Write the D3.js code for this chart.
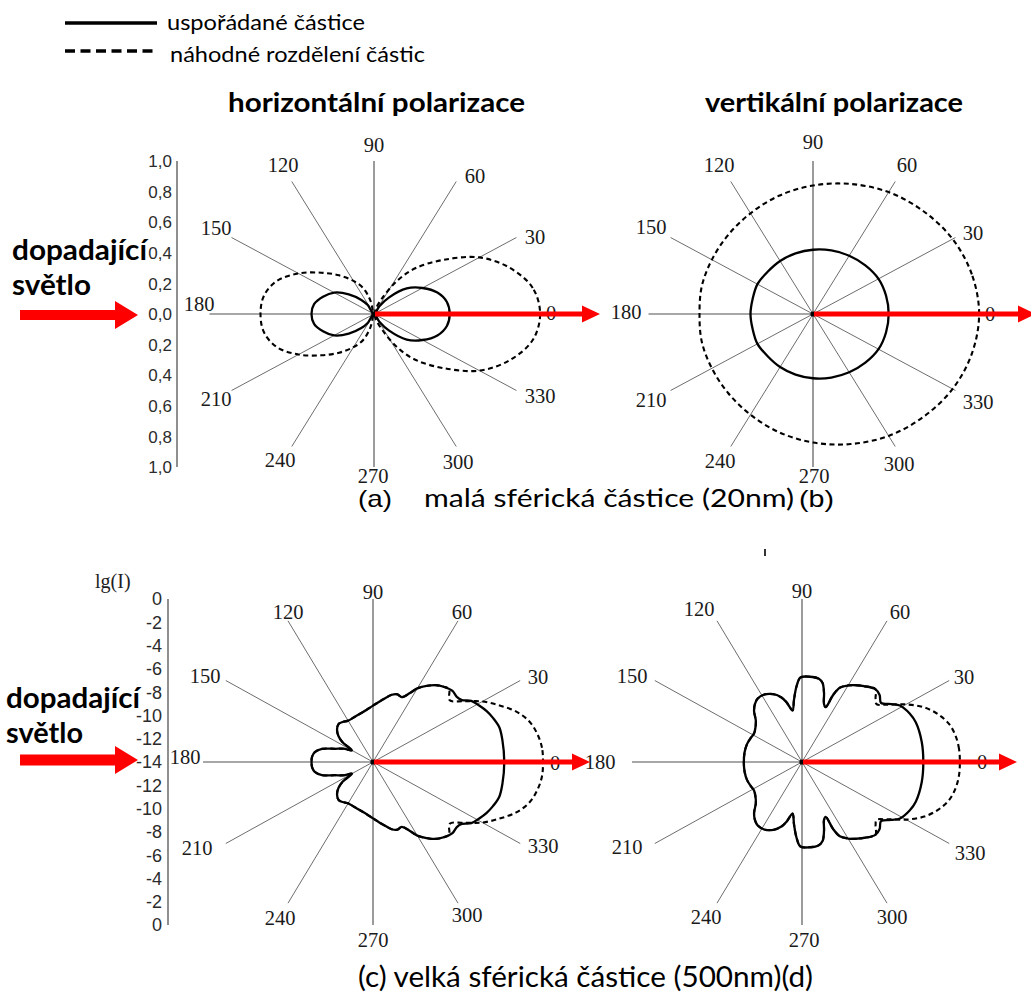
<!DOCTYPE html>
<html>
<head>
<meta charset="utf-8">
<script src="https://cdn.jsdelivr.net/npm/d3@7"></script>
<style>
  html, body { margin: 0; padding: 0; background: #fff; }
  svg { display: block; }
</style>
</head>
<body>
<svg id="chart" width="1031" height="996"></svg>
<script>
// ---------- data ----------
// spoke directions of the polar diagrams (degrees)
const spokeAngles = [0, 30, 60, 90, 120, 150, 180, 210, 240, 270, 300, 330];

// tick labels of the two radial scales, read top to bottom
const intensityTicks = [1.0, 0.8, 0.6, 0.4, 0.2, 0.0, 0.2, 0.4, 0.6, 0.8, 1.0];
const lgTicks = [0, -2, -4, -6, -8, -10, -12, -14, -12, -10, -8, -6, -4, -2, 0];

// (a) small particle, horizontal polarisation (relative intensity)
const aOrderedAngles = [0, 10, 20, 30, 40, 50, 57, 90, 123, 130, 140, 150, 160, 170, 180,
  190, 200, 210, 220, 230, 237, 270, 303, 310, 320, 330, 340, 350];
const aOrderedValues = [0.46, 0.45, 0.41, 0.34, 0.26, 0.14, 0.06, 0, 0.07, 0.12, 0.20, 0.28, 0.33, 0.37, 0.38,
  0.37, 0.33, 0.28, 0.20, 0.12, 0.07, 0, 0.06, 0.14, 0.26, 0.34, 0.41, 0.45];
const aRandomAngles = [0, 10, 20, 30, 40, 50, 57, 64, 72, 90, 104, 111, 120, 130, 140, 150, 160, 170, 180,
  190, 200, 210, 220, 230, 240, 249, 256, 270, 288, 296, 303, 310, 320, 330, 340, 350];
const aRandomValues = [1.01, 0.98, 0.88, 0.74, 0.55, 0.39, 0.26, 0.12, 0.04, 0, 0.09, 0.18, 0.25, 0.33, 0.42, 0.53, 0.63, 0.68, 0.69,
  0.68, 0.63, 0.53, 0.42, 0.33, 0.25, 0.18, 0.09, 0, 0.04, 0.12, 0.26, 0.39, 0.55, 0.74, 0.88, 0.98];

// (b) small particle, vertical polarisation (relative intensity)
const bAngles = [0, 15, 30, 45, 60, 75, 90, 105, 120, 135, 150, 165, 180,
  195, 210, 225, 240, 255, 270, 285, 300, 315, 330, 345];
const bOrderedValues = [0.46, 0.46, 0.46, 0.45, 0.44, 0.43, 0.42, 0.41, 0.40, 0.39, 0.39, 0.38, 0.38,
  0.38, 0.39, 0.39, 0.40, 0.41, 0.42, 0.43, 0.44, 0.45, 0.46, 0.46];
const bRandomValues = [1.01, 1.00, 0.98, 0.95, 0.92, 0.88, 0.84, 0.80, 0.76, 0.73, 0.71, 0.70, 0.69,
  0.70, 0.71, 0.73, 0.76, 0.80, 0.84, 0.88, 0.92, 0.95, 0.98, 1.00];

// (c) large particle, horizontal polarisation: [angle, lg(I)]
const cOrdered = [[0,-3.19],[10,-3.18],[16,-3.18],[21,-3.42],[25,-3.67],[29,-4.0],[33,-4.35],[36,-4.95],[39,-5.12],
  [43,-5.05],[48,-5.3],[52,-5.62],[56,-6.12],[60,-6.7],[63,-7.38],[67,-7.95],[71,-7.85],[75,-8.02],[81,-8.54],
  [90,-9.16],[97,-9.5],[105,-9.73],[112,-9.85],[120,-9.9],[126,-9.75],[131,-9.68],[137,-9.95],[142,-10.4],
  [146,-11.0],[150,-12.0],[155,-11.3],[160,-10.68],[165,-9.65],[170,-9.13],[175,-8.96],[180,-8.94],
  [185,-8.96],[190,-9.13],[195,-9.65],[200,-10.68],[205,-11.3],[210,-12.0],[214,-11.0],[218,-10.4],[223,-9.95],
  [229,-9.68],[234,-9.75],[240,-9.9],[248,-9.85],[255,-9.73],[263,-9.5],[270,-9.16],[279,-8.54],[285,-8.02],
  [289,-7.85],[293,-7.95],[297,-7.38],[300,-6.7],[304,-6.12],[308,-5.62],[312,-5.3],[317,-5.05],[321,-5.12],
  [324,-4.95],[327,-4.35],[331,-4.0],[335,-3.67],[339,-3.42],[344,-3.18],[350,-3.18]];
const cRandom = [[0,0],[5,-0.03],[10,-0.25],[15,-0.65],[20,-1.4],[25,-2.5],[30,-3.6],[35,-4.9],[40,-5.75],
  [45,-5.15],[48,-5.3],[52,-5.62],[56,-6.12],[60,-6.7],[63,-7.38],[67,-7.95],[71,-7.85],[75,-8.02],[81,-8.54],
  [90,-9.16],[97,-9.5],[105,-9.73],[112,-9.85],[120,-9.9],[126,-9.75],[131,-9.68],[137,-9.95],[142,-10.4],
  [146,-11.0],[150,-12.0],[155,-11.3],[160,-10.68],[165,-9.65],[170,-9.13],[175,-8.96],[180,-8.94],
  [185,-8.96],[190,-9.13],[195,-9.65],[200,-10.68],[205,-11.3],[210,-12.0],[214,-11.0],[218,-10.4],[223,-9.95],
  [229,-9.68],[234,-9.75],[240,-9.9],[248,-9.85],[255,-9.73],[263,-9.5],[270,-9.16],[279,-8.54],[285,-8.02],
  [289,-7.85],[293,-7.95],[297,-7.38],[300,-6.7],[304,-6.12],[308,-5.62],[312,-5.3],[315,-5.15],[320,-5.75],
  [325,-4.9],[330,-3.6],[335,-2.5],[340,-1.4],[345,-0.65],[350,-0.25],[355,-0.03]];

// (d) large particle, vertical polarisation: [angle, lg(I)]
const dOrdered = [[0,-4.01],[10,-3.99],[20,-4.03],[25,-4.2],[31,-4.59],[34,-5.1],[38,-5.74],[42,-5.4],[46,-5.3],
  [52,-5.73],[56,-6.05],[60,-6.41],[64,-6.9],[66,-7.7],[67.5,-8.9],[70,-8.7],[73,-7.8],[76,-7.0],[79,-6.72],
  [85,-6.65],[91,-6.74],[94,-7.5],[97,-8.6],[100,-9.5],[104,-8.7],[107,-8.2],[112,-7.72],[118,-7.43],[124,-7.45],
  [128,-7.7],[132,-8.1],[137,-8.8],[142,-9.14],[148,-9.35],[154,-9.3],[161,-9.22],[170,-9.2],[180,-9.21],
  [190,-9.2],[199,-9.22],[206,-9.3],[212,-9.35],[218,-9.14],[223,-8.8],[228,-8.1],[232,-7.7],[236,-7.45],
  [242,-7.43],[248,-7.72],[253,-8.2],[256,-8.7],[260,-9.5],[263,-8.6],[266,-7.5],[269,-6.74],[275,-6.65],
  [281,-6.72],[284,-7.0],[287,-7.8],[290,-8.7],[292.5,-8.9],[294,-7.7],[296,-6.9],[300,-6.41],[304,-6.05],
  [308,-5.73],[314,-5.3],[318,-5.4],[322,-5.74],[326,-5.1],[329,-4.59],[335,-4.2],[340,-4.03],[350,-3.99]];
const dRandom = [[0,-1.0],[5,-1.02],[10,-1.15],[15,-1.45],[20,-2.05],[25,-2.9],[30,-4.1],[35,-5.41],[39,-6.1],
  [42,-5.85],[46,-5.3],[52,-5.73],[56,-6.05],[60,-6.41],[64,-6.9],[66,-7.7],[67.5,-8.9],[70,-8.7],[73,-7.8],
  [76,-7.0],[79,-6.72],[85,-6.65],[91,-6.74],[94,-7.5],[97,-8.6],[100,-9.5],[104,-8.7],[107,-8.2],[112,-7.72],
  [118,-7.43],[124,-7.45],[128,-7.7],[132,-8.1],[137,-8.8],[142,-9.14],[148,-9.35],[154,-9.3],[161,-9.22],
  [170,-9.2],[180,-9.21],[190,-9.2],[199,-9.22],[206,-9.3],[212,-9.35],[218,-9.14],[223,-8.8],[228,-8.1],
  [232,-7.7],[236,-7.45],[242,-7.43],[248,-7.72],[253,-8.2],[256,-8.7],[260,-9.5],[263,-8.6],[266,-7.5],
  [269,-6.74],[275,-6.65],[281,-6.72],[284,-7.0],[287,-7.8],[290,-8.7],[292.5,-8.9],[294,-7.7],[296,-6.9],
  [300,-6.41],[304,-6.05],[308,-5.73],[314,-5.3],[318,-5.85],[321,-6.1],[325,-5.41],[330,-4.1],[335,-2.9],
  [340,-2.05],[345,-1.45],[350,-1.15],[355,-1.02]];

// ---------- drawing ----------
const svg = d3.select('#chart');
const DEG = Math.PI / 180;
const SERIF = '"Liberation Serif", "Times New Roman", serif';
const SANS = '"Liberation Sans", Arial, sans-serif';
const HUMANIST = 'Lato, "Open Sans", sans-serif';

svg.append('rect').attr('width', 1031).attr('height', 996).attr('fill', '#fff');

const linearRadius = d3.scaleLinear().domain([0, 1]).range([0, 153]);
const lgRadius = d3.scaleLinear().domain([-14, 0]).range([0, 163]);

// label offsets from the diagram centre, in spokeAngles order
const panels = {
  a: { cx: 374, cy: 314, kx: 1.075, scale: linearRadius, outer: 1,
       labels: [[177,-1],[161,-77],[101,-138],[0,-169],[-91,-149],[-158,-86],[-175,-10],[-158,85],[-94,146],[-1,162],[84,148],[166,82]] },
  b: { cx: 813, cy: 314, kx: 1.075, scale: linearRadius, outer: 1,
       labels: [[177,0],[160,-81],[94,-149],[0,-172],[-94,-149],[-162,-87],[-187,-2],[-162,86],[-93,147],[1,162],[86,150],[165,88]] },
  c: { cx: 373, cy: 762, kx: 1.043, scale: lgRadius, outer: 0,
       labels: [[182,1],[165,-85],[89,-150],[0,-170],[-85,-150],[-168,-86],[-188,-5],[-176,86],[-93,156],[0,178],[94,153],[170,84]] },
  d: { cx: 802, cy: 762, kx: 1.043, scale: lgRadius, outer: 0,
       labels: [[180,0],[162,-85],[98,-150],[0,-171],[-103,-153],[-170,-86],[-202,0],[-175,85],[-96,155],[2,178],[90,155],[168,91]] }
};

function polar(p, angle, value) {
  const r = p.scale(value), t = angle * DEG;
  return [p.cx + p.kx * r * Math.cos(t), p.cy - r * Math.sin(t)];
}

const closedLine = d3.line().curve(d3.curveCatmullRomClosed.alpha(0.5));

function drawPanel(p, series) {
  const g = svg.append('g');
  // spokes
  g.selectAll('line.spoke').data(spokeAngles).join('line')
    .attr('class', 'spoke')
    .attr('x1', p.cx).attr('y1', p.cy)
    .attr('x2', d => polar(p, d, p.outer)[0])
    .attr('y2', d => polar(p, d, p.outer)[1])
    .attr('stroke', d => d % 90 === 0 ? '#8a8a8a' : '#5c5c5c')
    .attr('stroke-width', d => d % 90 === 0 ? 1.7 : 0.9);
  // angle labels
  g.selectAll('text.angle').data(spokeAngles).join('text')
    .attr('class', 'angle')
    .attr('x', (d, i) => p.cx + p.labels[i][0])
    .attr('y', (d, i) => p.cy + p.labels[i][1])
    .attr('dy', '0.34em')
    .attr('text-anchor', 'middle')
    .attr('font-family', SERIF)
    .attr('font-size', 20.5)
    .attr('fill', '#1a1a1a')
    .text(d => d);
  // curves: random distribution (dashed) below ordered particles (solid)
  series.forEach(s => {
    g.append('path')
      .attr('d', closedLine(s.points.map(([ang, v]) => polar(p, ang, v))))
      .attr('fill', 'none')
      .attr('stroke', '#000')
      .attr('stroke-width', s.dashed ? 2.1 : 2.3)
      .attr('stroke-dasharray', s.dashed ? '5,3.5' : null)
      .attr('stroke-linejoin', 'round');
  });
  g.append('circle').attr('cx', p.cx).attr('cy', p.cy).attr('r', 2.6).attr('fill', '#000');
  return g;
}

drawPanel(panels.a, [
  { points: d3.zip(aRandomAngles, aRandomValues), dashed: true },
  { points: d3.zip(aOrderedAngles, aOrderedValues), dashed: false }
]);
drawPanel(panels.b, [
  { points: d3.zip(bAngles, bRandomValues), dashed: true },
  { points: d3.zip(bAngles, bOrderedValues), dashed: false }
]);
drawPanel(panels.c, [
  { points: cRandom, dashed: true },
  { points: cOrdered, dashed: false }
]);
drawPanel(panels.d, [
  { points: dRandom, dashed: true },
  { points: dOrdered, dashed: false }
]);

// ---------- radial value scales on the left ----------
function drawScale(p, axisX, ticks, labelX, size, fmt) {
  const g = svg.append('g');
  const mid = (ticks.length - 1) / 2;
  const top = p.cy - p.scale(p.outer), bottom = p.cy + p.scale(p.outer);
  g.append('line')
    .attr('x1', axisX).attr('x2', axisX).attr('y1', top).attr('y2', bottom)
    .attr('stroke', '#8f8f8f').attr('stroke-width', 2);
  g.selectAll('text').data(ticks).join('text')
    .attr('x', labelX)
    .attr('y', (d, i) => p.cy - Math.sign(mid - i) * p.scale(d))
    .attr('dy', '0.36em')
    .attr('text-anchor', 'end')
    .attr('font-family', SANS)
    .attr('font-size', size)
    .attr('fill', '#2b2b2b')
    .text(fmt);
}
drawScale(panels.a, 177, intensityTicks, 172, 17, d => d3.format('.1f')(d).replace('.', ','));
drawScale(panels.c, 168, lgTicks, 162, 18, d => String(d));

svg.append('text')
  .attr('x', 95).attr('y', 588)
  .attr('font-family', SERIF).attr('font-size', 20).attr('fill', '#1e1e1e')
  .text('lg(I)');

// ---------- red arrows ----------
function arrow(x0, tip, y, shaft, headLen, headHalf) {
  const xh = tip - headLen;
  svg.append('path')
    .attr('d', `M${x0},${y - shaft / 2}L${xh},${y - shaft / 2}L${xh},${y - headHalf}L${tip},${y}` +
      `L${xh},${y + headHalf}L${xh},${y + shaft / 2}L${x0},${y + shaft / 2}Z`)
    .attr('fill', '#ff0000');
}
// direction of propagation inside each diagram
arrow(panels.a.cx + 1, 600, panels.a.cy, 5, 18, 8.5);
arrow(panels.b.cx + 1, 1036, panels.b.cy, 5, 18, 8.5);
arrow(panels.c.cx + 1, 590, panels.c.cy, 5, 18, 8.5);
arrow(panels.d.cx + 1, 1017, panels.d.cy, 5, 18, 8.5);
// incident light
arrow(20, 138, 315, 10, 23, 14);
arrow(20, 138, 760, 11, 23, 14);

// ---------- texts ----------
function label(text, x, y, opts) {
  const t = svg.append('text')
    .attr('x', x).attr('y', y)
    .attr('font-family', opts.family || HUMANIST)
    .attr('font-size', opts.size)
    .attr('font-weight', opts.weight || 'normal')
    .attr('fill', '#000')
    .text(text);
  if (opts.width) t.attr('textLength', opts.width).attr('lengthAdjust', 'spacingAndGlyphs');
  return t;
}

// legend
svg.append('line').attr('x1', 65).attr('x2', 157).attr('y1', 23).attr('y2', 23)
  .attr('stroke', '#000').attr('stroke-width', 3.5);
svg.append('line').attr('x1', 65).attr('x2', 157).attr('y1', 51).attr('y2', 51)
  .attr('stroke', '#000').attr('stroke-width', 3.5).attr('stroke-dasharray', '10,5.5');
label('uspořádané částice', 167, 30, { size: 22, width: 198 });
label('náhodné rozdělení částic', 170, 62, { size: 22, width: 255 });

// column titles
label('horizontální polarizace', 228, 112, { size: 27, weight: 'bold', width: 297 });
label('vertikální polarizace', 705, 112, { size: 27, weight: 'bold', width: 258 });

// incident light captions
label('dopadající', 12, 260, { size: 29, weight: 'bold', width: 135 });
label('světlo', 12, 295, { size: 29, weight: 'bold', width: 79 });
label('dopadající', 6, 708, { size: 29, weight: 'bold', width: 134 });
label('světlo', 6, 743, { size: 29, weight: 'bold', width: 77 });

// row captions
label('(a)', 358, 507, { size: 24, family: SANS, width: 34 });
label('malá sférická částice (20nm)', 424, 507, { size: 25, width: 370 });
label('(b)', 799, 507, { size: 24, family: SANS, width: 35 });
label('(c) velká sférická částice (500nm)(d)', 358, 987, { size: 28, width: 455 });

// small stray tick below the upper caption
svg.append('line').attr('x1', 765).attr('x2', 765).attr('y1', 549).attr('y2', 556)
  .attr('stroke', '#333').attr('stroke-width', 2);
</script>
</body>
</html>
